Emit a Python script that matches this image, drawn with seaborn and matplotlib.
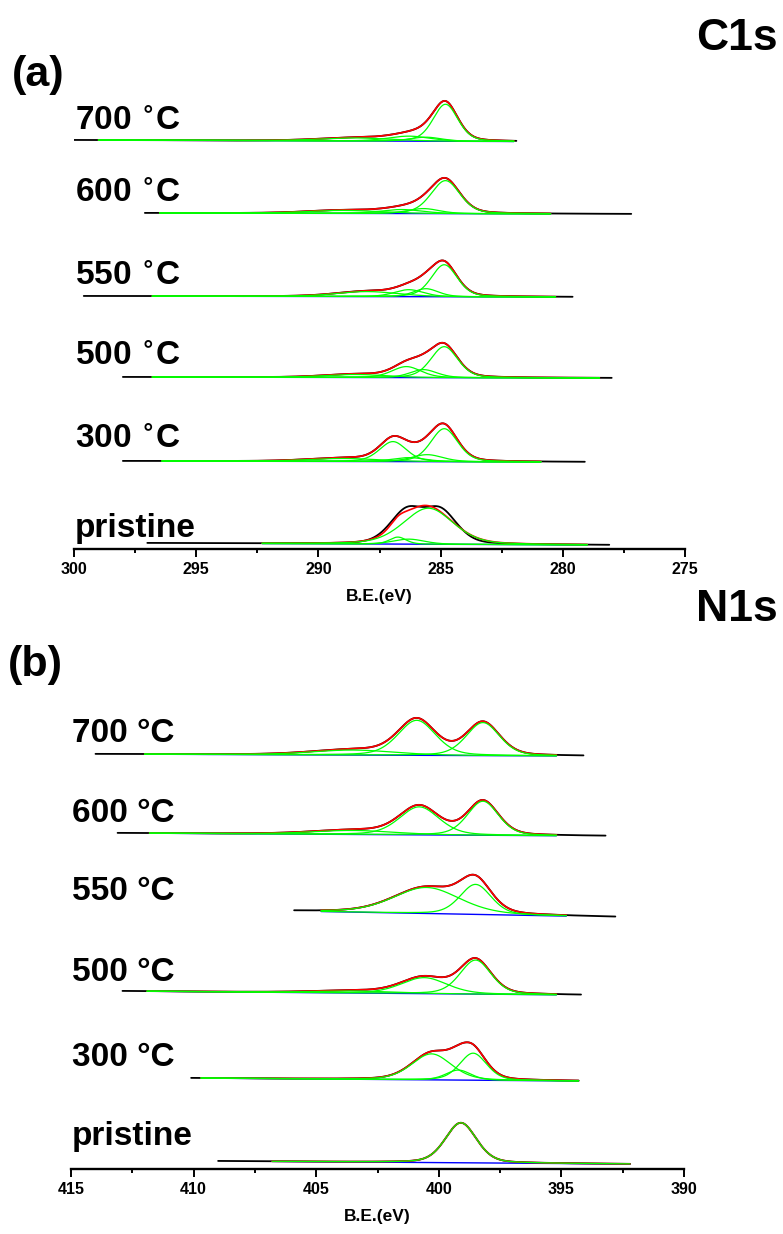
import numpy as np
import matplotlib
matplotlib.use("Agg")
import matplotlib.pyplot as plt
from matplotlib.ticker import MultipleLocator
import seaborn as sns

sns.set_style("white")
plt.rcParams['font.family'] = ['Liberation Sans', 'DejaVu Sans']
plt.rcParams['font.weight'] = 'bold'
plt.rcParams['text.color'] = 'black'
plt.rcParams['axes.labelcolor'] = 'black'
plt.rcParams['xtick.color'] = 'black'

# ------------------------------------------------------------------ data
# C1s panel (a): spectra from top to bottom
c1s_labels = [r"700 $^{\circ}$C", r"600 $^{\circ}$C", r"550 $^{\circ}$C",
              r"500 $^{\circ}$C", r"300 $^{\circ}$C", "pristine"]
c1s_data_range = [(300.0, 281.9), (297.1, 277.2), (299.6, 279.6), (298.0, 278.0), (298.0, 279.1), (297.0, 278.1)]
c1s_fit_range = [(299.0, 282.0), (296.5, 280.5), (296.8, 280.3), (296.8, 278.5), (296.4, 280.9), (292.3, 279.0)]
c1s_baseline = [(409, 407.5), (336, 335), (253, 252), (172, 171), (88, 87), (6, 4)]
c1s_centers = [[284.8, 285.6, 286.3, 288.5],
               [284.8, 285.7, 286.6, 289.0],
               [284.85, 285.6, 286.3, 288.0],
               [284.85, 285.7, 286.4, 288.5],
               [284.85, 285.55, 286.3, 286.95, 289.0],
               [285.5, 286.3, 286.75]]
c1s_heights = [[37, 4, 5, 3],
               [33, 5, 4, 3],
               [32, 8, 7, 5],
               [31, 8, 11, 3],
               [33, 7, 4, 20, 3],
               [36, 5, 7]]
c1s_fwhm = [[1.2, 1.5, 2.0, 3.5],
            [1.4, 1.5, 2.0, 3.5],
            [1.25, 1.2, 1.4, 3.0],
            [1.3, 1.3, 1.4, 3.0],
            [1.3, 1.5, 1.6, 1.3, 3.5],
            [2.4, 1.5, 0.8]]
# raw curve of pristine C1s differs from its fit (flat top)
c1s_raw_centers = {5: [286.4, 285.0]}
c1s_raw_heights = {5: [32, 32]}
c1s_raw_fwhm = {5: [1.6, 1.6]}

# N1s panel (b)
n1s_labels = ["700 °C", "600 °C", "550 °C", "500 °C", "300 °C", "pristine"]
n1s_data_range = [(414.0, 394.1), (413.1, 393.2), (405.9, 392.8), (412.9, 394.2), (410.1, 394.3), (409.0, 392.2)]
n1s_fit_range = [(412.0, 395.2), (411.8, 395.2), (404.8, 394.8), (411.9, 395.2), (409.7, 394.3), (406.8, 392.2)]
n1s_baseline = [(415, 413), (336, 333), (258, 252), (178, 174), (91, 88), (8, 5)]
n1s_centers = [[400.9, 398.2, 403.5],
               [400.8, 398.2, 403.5],
               [400.5, 398.5],
               [400.6, 398.5, 403.5],
               [400.3, 399.2, 398.6],
               [399.1]]
n1s_heights = [[35, 33, 5],
               [28, 34, 4],
               [26, 30],
               [16, 34, 2],
               [26, 10, 27],
               [40]]
n1s_fwhm = [[1.8, 1.6, 4.0],
            [1.9, 1.5, 4.0],
            [3.2, 1.5],
            [2.2, 1.5, 4.0],
            [1.9, 1.2, 1.3],
            [1.5]]

# ------------------------------------------------------------------ helpers
def pvoigt(x, c, h, w, eta=0.3):
    d = (x - c) / w
    return h * ((1 - eta) * np.exp(-4 * np.log(2) * d ** 2) + eta / (1 + 4 * d ** 2))


def baseline(x, rng, bl):
    return np.interp(x, [rng[1], rng[0]], [bl[1], bl[0]])


W, H = 783, 1234
fig = plt.figure(figsize=(W / 100, H / 100), dpi=100)

BLACK, RED, GREEN, BLUE = "#000000", "#ff0000", "#00ff00", "#0000ff"


def line(ax, x, y, color, lw, z):
    sns.lineplot(x=x, y=y, ax=ax, color=color, linewidth=lw, estimator=None,
                 sort=False, legend=False, zorder=z)


def draw_panel(ax, data_range, fit_range, bl, centers, heights, fwhm,
               raw_c=None, raw_h=None, raw_w=None):
    for i in range(len(centers)):
        xd = np.linspace(data_range[i][0], data_range[i][1], 700)
        xf = np.linspace(fit_range[i][0], fit_range[i][1], 700)
        bd = baseline(xd, data_range[i], bl[i])
        bf = baseline(xf, data_range[i], bl[i])
        if raw_c is not None and i in raw_c:
            rc, rh, rw = raw_c[i], raw_h[i], raw_w[i]
        else:
            rc, rh, rw = centers[i], heights[i], fwhm[i]
        raw = bd + sum(pvoigt(xd, c, h, w) for c, h, w in zip(rc, rh, rw))
        env = bf + sum(pvoigt(xf, c, h, w) for c, h, w in zip(centers[i], heights[i], fwhm[i]))
        line(ax, xd, raw, BLACK, 1.3, 2)
        line(ax, xf, bf, BLUE, 1.0, 3)
        line(ax, xf, env, RED, 1.2, 4)
        for c, h, w in zip(centers[i], heights[i], fwhm[i]):
            line(ax, xf, bf + pvoigt(xf, c, h, w), GREEN, 0.9, 5)


def style_axis(ax, xlim, ticks):
    ax.set_xlim(*xlim)
    ax.set_ylim(0, 469)
    for s in ["left", "right", "top"]:
        ax.spines[s].set_visible(False)
    ax.spines["bottom"].set_linewidth(1.7)
    ax.spines["bottom"].set_color("black")
    ax.set_xticks(ticks)
    ax.set_xticklabels([str(t) for t in ticks])
    ax.xaxis.set_minor_locator(MultipleLocator(2.5))
    ax.tick_params(axis="x", which="major", direction="out", length=6, width=1.4,
                   labelsize=11.5, pad=3, colors="black", bottom=True)
    ax.tick_params(axis="x", which="minor", direction="out", length=3.2, width=1.4,
                   bottom=True, colors="black")
    ax.set_yticks([])
    ax.set_ylabel("")
    ax.set_xlabel("B.E.(eV)", fontsize=12.5, fontweight="bold", labelpad=9, color="black")
    ax.patch.set_alpha(0)


ax1 = fig.add_axes([74 / W, 1 - 549 / H, 611 / W, 469 / H])
draw_panel(ax1, c1s_data_range, c1s_fit_range, c1s_baseline, c1s_centers,
           c1s_heights, c1s_fwhm, c1s_raw_centers, c1s_raw_heights, c1s_raw_fwhm)
style_axis(ax1, (300, 275), [300, 295, 290, 285, 280, 275])

ax2 = fig.add_axes([71 / W, 1 - 1169 / H, 613 / W, 469 / H])
draw_panel(ax2, n1s_data_range, n1s_fit_range, n1s_baseline, n1s_centers,
           n1s_heights, n1s_fwhm)
style_axis(ax2, (415, 390), [415, 410, 405, 400, 395, 390])

# labels
top_label_y = [130, 202, 285, 365, 448, 537]
bot_label_y = [742, 822, 900, 981, 1066, 1145]
for lab, y in zip(c1s_labels, top_label_y):
    fig.text(75 / W, 1 - y / H, lab, fontsize=24, fontweight="bold", va="baseline",
             ha="left", color="black")
for lab, y in zip(n1s_labels, bot_label_y):
    fig.text(72 / W, 1 - y / H, lab, fontsize=24, fontweight="bold", va="baseline",
             ha="left", color="black")

fig.text(12 / W, 1 - 75 / H, "(a)", fontsize=31, fontweight="bold", va="center", ha="left", color="black")
fig.text(778 / W, 1 - 50 / H, "C1s", fontsize=32, fontweight="bold", va="baseline", ha="right", color="black")
fig.text(8 / W, 1 - 665 / H, "(b)", fontsize=31, fontweight="bold", va="center", ha="left", color="black")
fig.text(778 / W, 1 - 621 / H, "N1s", fontsize=32, fontweight="bold", va="baseline", ha="right", color="black")

fig.savefig("out.png", dpi=100)
